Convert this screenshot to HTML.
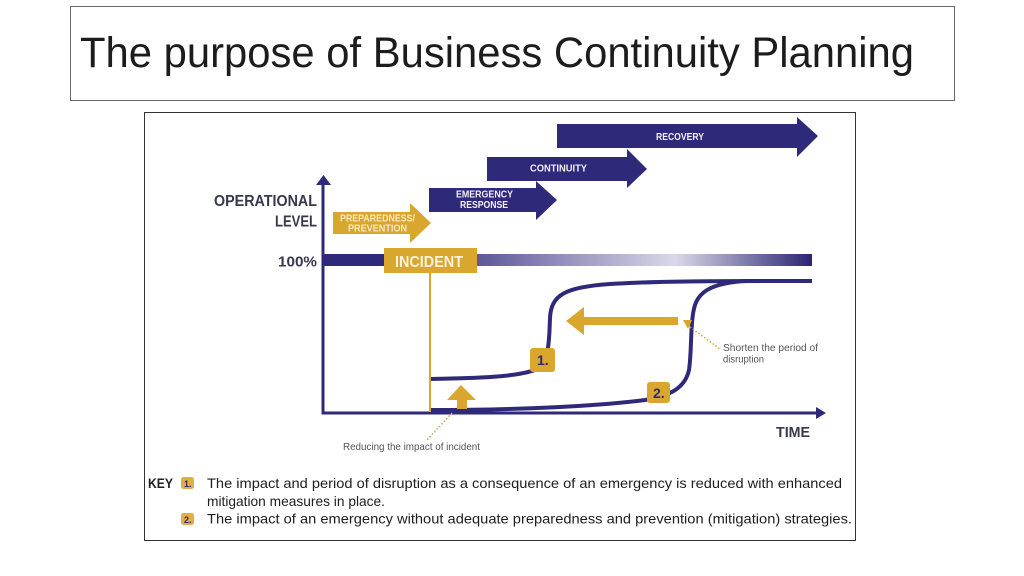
<!DOCTYPE html>
<html>
<head>
<meta charset="utf-8">
<style>
  html, body { margin:0; padding:0; background:#fff; }
  body { width:1024px; height:576px; overflow:hidden; }
  svg { display:block; }
  text { font-family: "Liberation Sans", Arial, sans-serif; }
  .narrow { font-family: "Liberation Sans Narrow", "Liberation Sans", Arial, sans-serif; }
</style>
</head>
<body>
<svg width="1024" height="576" viewBox="0 0 1024 576" xmlns="http://www.w3.org/2000/svg">
  <defs>
    <linearGradient id="bar" gradientUnits="userSpaceOnUse" x1="323" y1="0" x2="812" y2="0">
      <stop offset="0" stop-color="#2f2979"/>
      <stop offset="0.12" stop-color="#2f2979"/>
      <stop offset="0.32" stop-color="#5f589a"/>
      <stop offset="0.72" stop-color="#dad8e9"/>
      <stop offset="1" stop-color="#2b2572"/>
    </linearGradient>
  </defs>

  <!-- Title box -->
  <rect x="70.5" y="6.5" width="884" height="94" fill="#fff" stroke="#6a6a6a" stroke-width="1"/>
  <text x="80" y="67" font-size="43" fill="#1c1c1c" textLength="834" lengthAdjust="spacingAndGlyphs">The purpose of Business Continuity Planning</text>

  <!-- Diagram box -->
  <rect x="144.5" y="112.5" width="711" height="428" fill="#fff" stroke="#333" stroke-width="1"/>

  <!-- Phase arrows -->
  <polygon points="557,124 797,124 797,117 818,136 797,157 797,148 557,148" fill="#2f2979"/>
  <polygon points="487,157 627,157 627,149 647,169 627,188 627,181 487,181" fill="#2f2979"/>
  <polygon points="429,188 536,188 536,181 557,200 536,220 536,212 429,212" fill="#2f2979"/>
  <polygon points="333,212 410,212 410,203 431,223 410,243 410,234 333,234" fill="#d9a62e"/>

  <text x="656" y="140" font-size="10.5" font-weight="bold" fill="#f2f0fa" textLength="48" lengthAdjust="spacingAndGlyphs">RECOVERY</text>
  <text x="530" y="171.5" font-size="10.5" font-weight="bold" fill="#f2f0fa" textLength="57" lengthAdjust="spacingAndGlyphs">CONTINUITY</text>
  <text x="456" y="197.5" font-size="10" font-weight="bold" fill="#f2f0fa" textLength="57" lengthAdjust="spacingAndGlyphs">EMERGENCY</text>
  <text x="460" y="208" font-size="10" font-weight="bold" fill="#f2f0fa" textLength="48" lengthAdjust="spacingAndGlyphs">RESPONSE</text>
  <text x="340" y="221.5" font-size="10" font-weight="bold" fill="#f7e8c4" textLength="75" lengthAdjust="spacingAndGlyphs">PREPAREDNESS/</text>
  <text x="348" y="231.5" font-size="10" font-weight="bold" fill="#f7e8c4" textLength="59" lengthAdjust="spacingAndGlyphs">PREVENTION</text>

  <!-- Axis labels -->
  <text x="214" y="206" font-size="16" font-weight="bold" fill="#38374c" textLength="103" lengthAdjust="spacingAndGlyphs">OPERATIONAL</text>
  <text x="275" y="226.5" font-size="16" font-weight="bold" fill="#38374c" textLength="42" lengthAdjust="spacingAndGlyphs">LEVEL</text>
  <text x="278" y="266.5" font-size="15" font-weight="bold" fill="#38374c" textLength="39" lengthAdjust="spacingAndGlyphs">100%</text>
  <text x="776" y="437" font-size="15" font-weight="bold" fill="#38374c" textLength="34" lengthAdjust="spacingAndGlyphs">TIME</text>

  <!-- 100% bar -->
  <rect x="323" y="254" width="489" height="12" fill="url(#bar)"/>

  <!-- Axes -->
  <line x1="323" y1="183" x2="323" y2="414.5" stroke="#2f2979" stroke-width="3"/>
  <polygon points="316,185 323.5,175 331,185" fill="#2f2979"/>
  <line x1="321.5" y1="413" x2="818" y2="413" stroke="#2f2979" stroke-width="3"/>
  <polygon points="816,407 826,413 816,419" fill="#2f2979"/>

  <!-- Incident -->
  <line x1="430" y1="272" x2="430" y2="412" stroke="#d9a62e" stroke-width="2"/>
  <rect x="384" y="248" width="93" height="25" fill="#d9a62e"/>
  <text x="395" y="267" font-size="16" font-weight="bold" fill="#fbf3dd" textLength="68" lengthAdjust="spacingAndGlyphs">INCIDENT</text>

  <!-- Curves -->
  <path d="M431,379 C480,378 515,377 535,370 C550,362 549,340 550,318 C551,295 565,287 610,284 C660,281 720,281 812,281" fill="none" stroke="#2f2979" stroke-width="4"/>
  <path d="M431,410 C520,410 600,406 645,400 C670,396 685,388 689,370 C692,350 690,320 695,305 C700,290 715,283 745,281 L812,281" fill="none" stroke="#2f2979" stroke-width="4"/>

  <!-- Number boxes -->
  <rect x="530" y="348" width="25" height="24" rx="3" fill="#d9a62e"/>
  <text x="537" y="365" font-size="14" font-weight="bold" fill="#2f2979">1.</text>
  <rect x="647" y="382" width="23" height="21" rx="3" fill="#d9a62e"/>
  <text x="653" y="398" font-size="14" font-weight="bold" fill="#2f2979">2.</text>

  <!-- Shorten arrow -->
  <rect x="582" y="317" width="96" height="8" fill="#d9a62e"/>
  <polygon points="584,307 566,321 584,335" fill="#d9a62e"/>
  <polygon points="683,320 692,320 688,329" fill="#d9a62e"/>
  <line x1="690" y1="327" x2="720" y2="349" stroke="#c9a24a" stroke-width="1.5" stroke-dasharray="1.5,2"/>
  <text x="723" y="351" font-size="10" fill="#555" textLength="95" lengthAdjust="spacingAndGlyphs">Shorten the period of</text>
  <text x="723" y="362.5" font-size="10" fill="#555" textLength="41" lengthAdjust="spacingAndGlyphs">disruption</text>

  <!-- Reduce impact arrow -->
  <polygon points="447,400 461,385 476,400" fill="#d9a62e"/>
  <rect x="457" y="399" width="10" height="10" fill="#d9a62e"/>
  <line x1="452" y1="413" x2="427" y2="440" stroke="#c9a24a" stroke-width="1.5" stroke-dasharray="1.5,2"/>
  <text x="343" y="450" font-size="10" fill="#555" textLength="137" lengthAdjust="spacingAndGlyphs">Reducing the impact of incident</text>

  <!-- Key -->
  <text x="148" y="488" font-size="13.5" font-weight="bold" fill="#222" textLength="25" lengthAdjust="spacingAndGlyphs">KEY</text>
  <rect x="181" y="477" width="13" height="12" rx="2.5" fill="#e0ae45"/>
  <text x="184" y="487" font-size="9" font-weight="bold" fill="#2f2979">1.</text>
  <text class="narrow" x="207" y="488" font-size="14" fill="#1e1e1e" textLength="635" lengthAdjust="spacingAndGlyphs">The impact and period of disruption as a consequence of an emergency is reduced with enhanced</text>
  <text class="narrow" x="207" y="506" font-size="14" fill="#1e1e1e" textLength="178" lengthAdjust="spacingAndGlyphs">mitigation measures in place.</text>
  <rect x="181" y="513" width="13" height="12" rx="2.5" fill="#e0ae45"/>
  <text x="184" y="523" font-size="9" font-weight="bold" fill="#2f2979">2.</text>
  <text class="narrow" x="207" y="523.5" font-size="14" fill="#1e1e1e" textLength="645" lengthAdjust="spacingAndGlyphs">The impact of an emergency without adequate preparedness and prevention (mitigation) strategies.</text>
</svg>
</body>
</html>
